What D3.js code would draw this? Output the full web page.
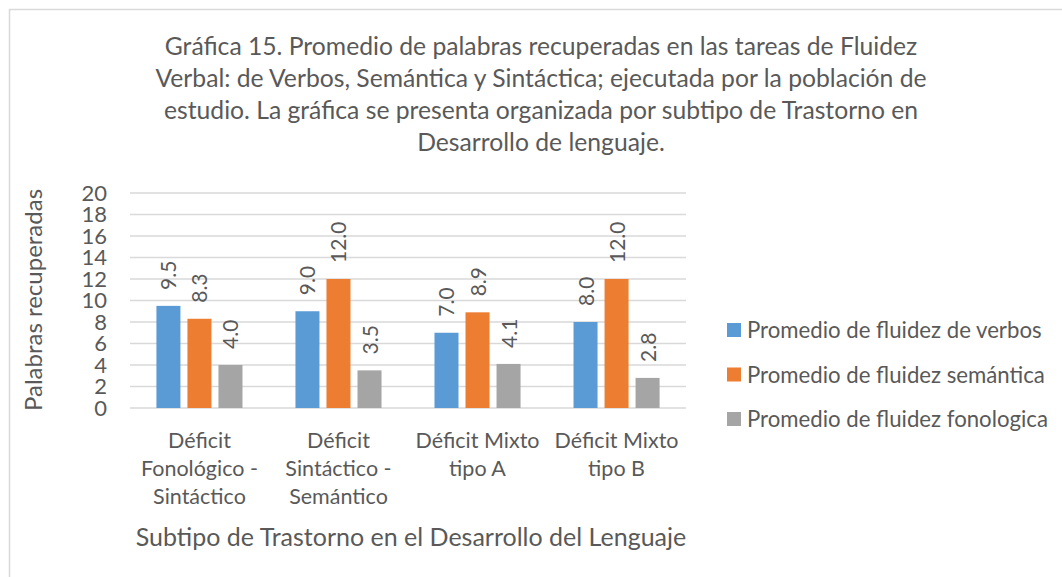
<!DOCTYPE html>
<html>
<head>
<meta charset="utf-8">
<script src="https://cdn.jsdelivr.net/npm/d3@7/dist/d3.min.js"></script>
<style>
  body { margin: 0; background: #fff; }
  text { font-family: Lato, "Open Sans", sans-serif; fill: #595959; }
</style>
</head>
<body>
<div id="chart"></div>
<script>
// datos
var categories = [
  ["Déficit", "Fonológico -", "Sintáctico"],
  ["Déficit", "Sintáctico -", "Semántico"],
  ["Déficit Mixto", "tipo A"],
  ["Déficit Mixto", "tipo B"]
];
var seriesNames = ["Promedio de fluidez de verbos", "Promedio de fluidez semántica", "Promedio de fluidez fonologica"];
var verbos = [9.5, 9.0, 7.0, 8.0];
var semantica = [8.3, 12.0, 8.9, 12.0];
var fonologica = [4.0, 3.5, 4.1, 2.8];
var yTicks = [0, 2, 4, 6, 8, 10, 12, 14, 16, 18, 20];
var titleLines = [
  "Gráfica 15. Promedio de palabras recuperadas en las tareas de Fluidez",
  "Verbal: de Verbos, Semántica y Sintáctica; ejecutada por la población de",
  "estudio. La gráfica se presenta organizada por subtipo de Trastorno en",
  "Desarrollo de lenguaje."
];

var colors = ["#5b9bd5", "#ed7d31", "#a5a5a5"];
var seriesVals = [verbos, semantica, fonologica];

var W = 1062, H = 577;
var svg = d3.select("#chart").append("svg").attr("width", W).attr("height", H);

// marco del grafico
svg.append("rect").attr("x", 9.5).attr("y", 9.5).attr("width", W + 20).attr("height", H + 20)
  .attr("fill", "none").attr("stroke", "#d9d9d9").attr("stroke-width", 1.5);

// titulo
svg.append("g").selectAll("text").data(titleLines).join("text")
  .attr("x", 541).attr("y", (d, i) => 55 + i * 32)
  .attr("text-anchor", "middle").style("font-size", "24.7px").text(d => d);

var x0 = d3.scaleBand().domain(d3.range(categories.length)).range([130, 686])
  .paddingInner(0.381).paddingOuter(0.19);
var x1 = d3.scaleBand().domain(d3.range(seriesNames.length)).range([0, x0.bandwidth()])
  .paddingInner(0.226);
var y = d3.scaleLinear().domain([0, 20]).range([408, 193]);

// rejilla
svg.append("g").selectAll("line").data(yTicks).join("line")
  .attr("x1", 130).attr("x2", 686)
  .attr("y1", d => y(d)).attr("y2", d => y(d))
  .attr("stroke", "#d9d9d9").attr("stroke-width", 1.3);

// eje y
var yAxis = svg.append("g").attr("transform", "translate(130,0)")
  .call(d3.axisLeft(y).tickValues(yTicks).tickSize(0).tickPadding(23).tickFormat(d3.format("d")));
yAxis.select(".domain").remove();
yAxis.selectAll("text").style("font-size", "22px").style("font-family", "Lato, sans-serif").attr("fill", "#595959");

svg.append("text").attr("transform", "translate(42,300) rotate(-90)")
  .attr("text-anchor", "middle").style("font-size", "24px").text("Palabras recuperadas");

// barras
var groups = svg.append("g").selectAll("g").data(categories).join("g")
  .attr("transform", (d, i) => "translate(" + x0(i) + ",0)");

groups.selectAll("rect").data((d, i) => seriesVals.map((s, k) => ({ k: k, v: s[i] }))).join("rect")
  .attr("x", d => x1(d.k)).attr("width", x1.bandwidth())
  .attr("y", d => y(d.v)).attr("height", d => y(0) - y(d.v))
  .attr("fill", d => colors[d.k]);

groups.selectAll("text.val").data((d, i) => seriesVals.map((s, k) => ({ k: k, v: s[i] }))).join("text")
  .attr("class", "val")
  .attr("transform", d => "translate(" + (x1(d.k) + x1.bandwidth() / 2 + 8) + "," + (y(d.v) - 16) + ") rotate(-90)")
  .attr("text-anchor", "start").style("font-size", "21px").text(d => d3.format(".1f")(d.v));

// etiquetas del eje x
groups.selectAll("text.cat").data(d => d).join("text")
  .attr("class", "cat")
  .attr("x", x0.bandwidth() / 2).attr("y", (d, j) => 448 + j * 28)
  .attr("text-anchor", "middle").style("font-size", "21.5px").text(d => d);

svg.append("text").attr("x", 411).attr("y", 546).attr("text-anchor", "middle")
  .style("font-size", "25px").text("Subtipo de Trastorno en el Desarrollo del Lenguaje");

// leyenda
var leg = svg.append("g").selectAll("g").data(seriesNames).join("g")
  .attr("transform", (d, i) => "translate(727," + (330 + i * 44.5) + ")");
leg.append("rect").attr("x", 0).attr("y", -7).attr("width", 14).attr("height", 14)
  .attr("fill", (d, i) => colors[i]);
leg.append("text").attr("x", 20).attr("y", 8).style("font-size", "22.2px").text(d => d);
</script>
</body>
</html>
